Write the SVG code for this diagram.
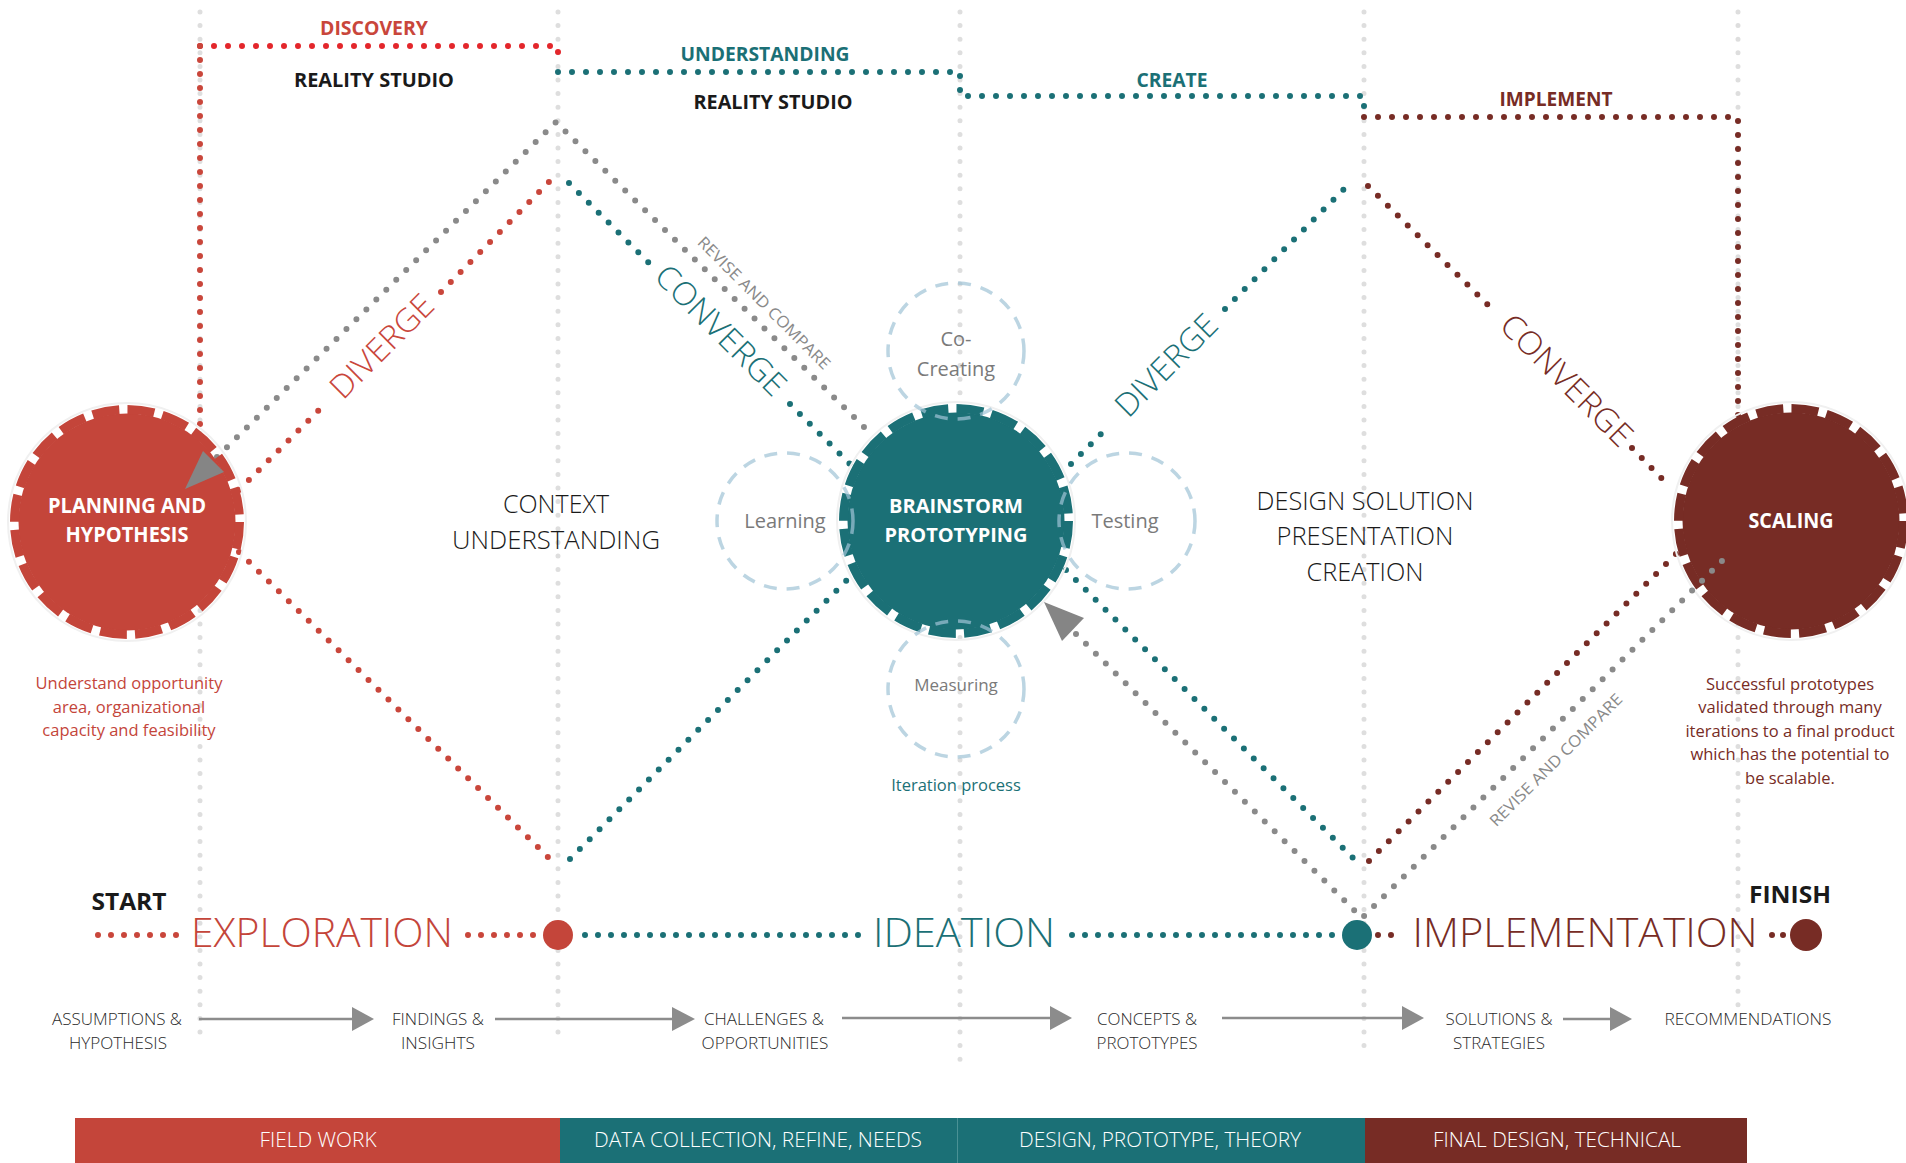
<svg xmlns="http://www.w3.org/2000/svg" width="1906" height="1163" viewBox="0 0 1906 1163">
<defs>
<style>
text{font-family:"Open Sans","Liberation Sans",sans-serif;}
.vg{fill:none;stroke:#dedede;stroke-width:5;stroke-linecap:round;stroke-dasharray:0 13.6;}
.dot{fill:none;stroke-width:6;stroke-linecap:round;stroke-dasharray:0 14;}
.dotb{fill:none;stroke-width:6;stroke-linecap:round;stroke-dasharray:0 13;}
.red{stroke:#c9463b}
.teal{stroke:#1b7076}
.brown{stroke:#772c25}
.gray{stroke:#8a8a8a}
.bright{stroke:#e3262b}
.sat{fill:none;stroke:#9fc3d6;stroke-opacity:.7;stroke-width:3.5;stroke-dasharray:13 10;}
.lbl{font-weight:700;text-anchor:middle}
.big{font-weight:300;font-size:25px;fill:#1a1a1a;text-anchor:middle}
.satt{font-size:20px;fill:#7a7a7a;text-anchor:middle}
.step{font-size:16.5px;fill:#2a2a2a;text-anchor:middle;font-weight:300}
.bar{font-size:20px;fill:#fff;text-anchor:middle;font-weight:300}
.phase{font-size:41px;font-weight:300;text-anchor:middle}
.diag{font-size:32px;font-weight:300;text-anchor:middle}
.rev{font-size:16px;fill:#8a8a8a;text-anchor:middle}
.para{font-size:16.5px;text-anchor:middle}
.arr{stroke:#8c8c8c;stroke-width:2.5;fill:none}
.ah{fill:#8c8c8c}
.teeth{fill:none;stroke-width:9;stroke-dasharray:27 8.34}
.halo{fill:none;stroke:#f0f0f0;stroke-width:2}
</style>
</defs>
<rect x="0" y="0" width="1906" height="1163" fill="#ffffff"/>

<g id="connectors">
  <path class="vg" d="M200,12V1035 M558,12V1040 M960,12V1065 M1364,12V1050 M1738,12V1005"/>
  <!-- top phase path -->
  <path class="dot bright" d="M200,46H558V62"/>
  <path class="dot red" d="M200,46V430"/>
  <path class="dot teal" d="M558,72H960V96H1364V107"/>
  <path class="dot brown" d="M1364,117H1738V420"/>
  <!-- left diamond -->
  <path class="dot red" d="M239,490L326,403 M441,292L549,182"/>
  <path class="dot red" d="M239,552L557,866"/>
  <path class="dot teal" d="M569,183L652,266 M790,404L850,464"/>
  <path class="dot teal" d="M570,859L848,579"/>
  <path class="dot gray" d="M217,457L556,122L866,429"/>
  <!-- right diamond -->
  <path class="dot teal" d="M1071,464L1110,425 M1225,309L1350,183"/>
  <path class="dot brown" d="M1368,186L1497,314 M1632,448L1668,485"/>
  <path class="dot teal" d="M1066,570L1354,859"/>
  <path class="dot brown" d="M1369,861L1677,553"/>
  <!-- bottom phase line -->
  <path class="dotb red" d="M98,935H178 M468,935H536"/>
  <path class="dotb teal" d="M585,935H860 M1072,935H1338"/>
  <path class="dotb brown" d="M1378,935H1402"/>
  <path fill="none" stroke="#772c25" stroke-width="6" stroke-linecap="round" stroke-dasharray="0 11" d="M1772,935H1784"/>
  <circle cx="558" cy="935" r="15" fill="#c4453a"/>
  <circle cx="1357" cy="935" r="15" fill="#1b7076"/>
  <circle cx="1806" cy="935" r="16" fill="#772c25"/>
  <!-- step arrows -->
  <path class="arr" d="M199,1019H354 M495,1019H674 M842,1018H1052 M1222,1018H1404 M1563,1019H1612"/>
  <polygon class="ah" points="352,1007 374,1019 352,1031"/>
  <polygon class="ah" points="672,1007 695,1019 672,1031"/>
  <polygon class="ah" points="1050,1006 1072,1018 1050,1030"/>
  <polygon class="ah" points="1402,1006 1424,1018 1402,1030"/>
  <polygon class="ah" points="1610,1007 1632,1019 1610,1031"/>
</g>

<g id="node-planning">
  <circle class="halo" cx="127" cy="522" r="119"/>
  <circle cx="127" cy="522" r="108.5" fill="#c4453a"/>
  <circle class="teeth" cx="127" cy="522" r="112.5" stroke="#c4453a"/>
  <text class="lbl" x="127" y="513" font-size="21" fill="#fff" textLength="158" lengthAdjust="spacingAndGlyphs">PLANNING AND</text>
  <text class="lbl" x="127" y="542" font-size="21" fill="#fff" textLength="123" lengthAdjust="spacingAndGlyphs">HYPOTHESIS</text>
</g>

<g id="node-brainstorm">
  <circle class="halo" cx="956" cy="521" r="119"/>
  <circle cx="956" cy="521" r="108.5" fill="#1b7076"/>
  <circle class="teeth" cx="956" cy="521" r="112.5" stroke="#1b7076"/>
  <text class="lbl" x="956" y="513" font-size="20" fill="#fff" textLength="134" lengthAdjust="spacingAndGlyphs">BRAINSTORM</text>
  <text class="lbl" x="956" y="542" font-size="20" fill="#fff" textLength="143" lengthAdjust="spacingAndGlyphs">PROTOTYPING</text>
</g>

<g id="node-cocreating">
  <circle class="sat" cx="956" cy="351" r="68"/>
  <text class="satt" x="956" y="346">Co-</text>
  <text class="satt" x="956" y="376">Creating</text>
</g>
<g id="node-learning">
  <circle class="sat" cx="785" cy="521" r="68"/>
  <text class="satt" x="785" y="528">Learning</text>
</g>
<g id="node-testing">
  <circle class="sat" cx="1127" cy="521" r="68"/>
  <text class="satt" x="1125" y="528">Testing</text>
</g>
<g id="node-measuring">
  <circle class="sat" cx="956" cy="689" r="68"/>
  <text class="satt" x="956" y="691" style="font-size:17px">Measuring</text>
</g>
<text x="956" y="791" font-size="16.5" fill="#1b7076" text-anchor="middle">Iteration process</text>

<g id="node-scaling">
  <circle class="halo" cx="1791" cy="521" r="119"/>
  <circle cx="1791" cy="521" r="108.5" fill="#772c25"/>
  <circle class="teeth" cx="1791" cy="521" r="112.5" stroke="#772c25"/>
  <text class="lbl" x="1791" y="528" font-size="21" fill="#fff" textLength="85" lengthAdjust="spacingAndGlyphs">SCALING</text>
</g>

<g id="connectors-over">
  <path class="dot gray" d="M1076,634L1362,918L1731,552"/>
  <polygon fill="#858585" points="185,489 203,451 224,472"/>
  <polygon fill="#858585" points="1044,602 1084,618 1062,641"/>
</g>

<g id="labels">
  <text class="lbl" x="374" y="35" font-size="19" fill="#c9463b" textLength="108" lengthAdjust="spacingAndGlyphs">DISCOVERY</text>
  <text class="lbl" x="374" y="87" font-size="19.5" fill="#1a1a1a" textLength="160" lengthAdjust="spacingAndGlyphs">REALITY STUDIO</text>
  <text class="lbl" x="765" y="61" font-size="19" fill="#1b7076" textLength="169" lengthAdjust="spacingAndGlyphs">UNDERSTANDING</text>
  <text class="lbl" x="773" y="109" font-size="19.5" fill="#1a1a1a" textLength="159" lengthAdjust="spacingAndGlyphs">REALITY STUDIO</text>
  <text class="lbl" x="1172" y="87" font-size="19" fill="#1b7076" textLength="71" lengthAdjust="spacingAndGlyphs">CREATE</text>
  <text class="lbl" x="1556" y="106" font-size="19" fill="#772c25" textLength="113" lengthAdjust="spacingAndGlyphs">IMPLEMENT</text>

  <text class="big" x="556" y="513">CONTEXT</text>
  <text class="big" x="556" y="549" textLength="208" lengthAdjust="spacingAndGlyphs">UNDERSTANDING</text>
  <text class="big" x="1365" y="510" textLength="217" lengthAdjust="spacingAndGlyphs">DESIGN SOLUTION</text>
  <text class="big" x="1365" y="545" textLength="177" lengthAdjust="spacingAndGlyphs">PRESENTATION</text>
  <text class="big" x="1365" y="581" textLength="117" lengthAdjust="spacingAndGlyphs">CREATION</text>

  <text class="diag" transform="translate(381.5,346) rotate(-45)" x="0" y="11.5" fill="#c9463b" textLength="132" lengthAdjust="spacingAndGlyphs">DIVERGE</text>
  <text class="diag" transform="translate(721,330) rotate(45)" x="0" y="11.5" fill="#1b7076" textLength="170" lengthAdjust="spacingAndGlyphs">CONVERGE</text>
  <text class="diag" transform="translate(1166,365) rotate(-45)" x="0" y="11.5" fill="#1b7076" textLength="130" lengthAdjust="spacingAndGlyphs">DIVERGE</text>
  <text class="diag" transform="translate(1567,380) rotate(45)" x="0" y="11.5" fill="#772c25" textLength="172" lengthAdjust="spacingAndGlyphs">CONVERGE</text>

  <text class="rev" transform="translate(750.5,316.5) rotate(45)" x="0" y="-13.5" textLength="180" lengthAdjust="spacingAndGlyphs">REVISE AND COMPARE</text>
  <text class="rev" transform="translate(1538,742) rotate(-45)" x="0" y="31" textLength="180" lengthAdjust="spacingAndGlyphs">REVISE AND COMPARE</text>

  <g fill="#c4453a">
    <text class="para" x="129" y="689">Understand opportunity</text>
    <text class="para" x="129" y="713">area, organizational</text>
    <text class="para" x="129" y="736">capacity and feasibility</text>
  </g>
  <g fill="#772c25">
    <text class="para" x="1790" y="690">Successful prototypes</text>
    <text class="para" x="1790" y="713">validated through many</text>
    <text class="para" x="1790" y="737">iterations to a final product</text>
    <text class="para" x="1790" y="760">which has the potential to</text>
    <text class="para" x="1790" y="784">be scalable.</text>
  </g>

  <text class="lbl" x="129" y="910" font-size="23" fill="#1a1a1a" textLength="75" lengthAdjust="spacingAndGlyphs">START</text>
  <text class="lbl" x="1790" y="903" font-size="23" fill="#1a1a1a" textLength="82" lengthAdjust="spacingAndGlyphs">FINISH</text>
  <text class="phase" x="322" y="947" fill="#c4453a" textLength="262" lengthAdjust="spacingAndGlyphs">EXPLORATION</text>
  <text class="phase" x="964" y="947" fill="#1b7076" textLength="182" lengthAdjust="spacingAndGlyphs">IDEATION</text>
  <text class="phase" x="1585" y="947" fill="#772c25" textLength="345" lengthAdjust="spacingAndGlyphs">IMPLEMENTATION</text>

  <text class="step" x="117" y="1025" textLength="130" lengthAdjust="spacingAndGlyphs">ASSUMPTIONS &amp;</text>
  <text class="step" x="118" y="1049" textLength="98" lengthAdjust="spacingAndGlyphs">HYPOTHESIS</text>
  <text class="step" x="438" y="1025" textLength="92" lengthAdjust="spacingAndGlyphs">FINDINGS &amp;</text>
  <text class="step" x="438" y="1049" textLength="74" lengthAdjust="spacingAndGlyphs">INSIGHTS</text>
  <text class="step" x="764" y="1025" textLength="120" lengthAdjust="spacingAndGlyphs">CHALLENGES &amp;</text>
  <text class="step" x="765" y="1049" textLength="127" lengthAdjust="spacingAndGlyphs">OPPORTUNITIES</text>
  <text class="step" x="1147" y="1025" textLength="100" lengthAdjust="spacingAndGlyphs">CONCEPTS &amp;</text>
  <text class="step" x="1147" y="1049" textLength="101" lengthAdjust="spacingAndGlyphs">PROTOTYPES</text>
  <text class="step" x="1499" y="1025" textLength="107" lengthAdjust="spacingAndGlyphs">SOLUTIONS &amp;</text>
  <text class="step" x="1499" y="1049" textLength="92" lengthAdjust="spacingAndGlyphs">STRATEGIES</text>
  <text class="step" x="1748" y="1025" textLength="167" lengthAdjust="spacingAndGlyphs">RECOMMENDATIONS</text>
</g>

<g id="bars">
  <rect x="75" y="1118" width="485" height="45" fill="#c4453a"/>
  <rect x="560" y="1118" width="397" height="45" fill="#1b7076"/>
  <rect x="957" y="1118" width="408" height="45" fill="#1b7076"/>
  <rect x="1365" y="1118" width="382" height="45" fill="#772c25"/>
  <line x1="957.5" y1="1118" x2="957.5" y2="1163" stroke="#4a9195" stroke-width="1"/>
  <text class="bar" x="318" y="1147" textLength="117" lengthAdjust="spacingAndGlyphs">FIELD WORK</text>
  <text class="bar" x="758" y="1147" textLength="328" lengthAdjust="spacingAndGlyphs">DATA COLLECTION, REFINE, NEEDS</text>
  <text class="bar" x="1160" y="1147" textLength="282" lengthAdjust="spacingAndGlyphs">DESIGN, PROTOTYPE, THEORY</text>
  <text class="bar" x="1557" y="1147" textLength="248" lengthAdjust="spacingAndGlyphs">FINAL DESIGN, TECHNICAL</text>
</g>
</svg>
